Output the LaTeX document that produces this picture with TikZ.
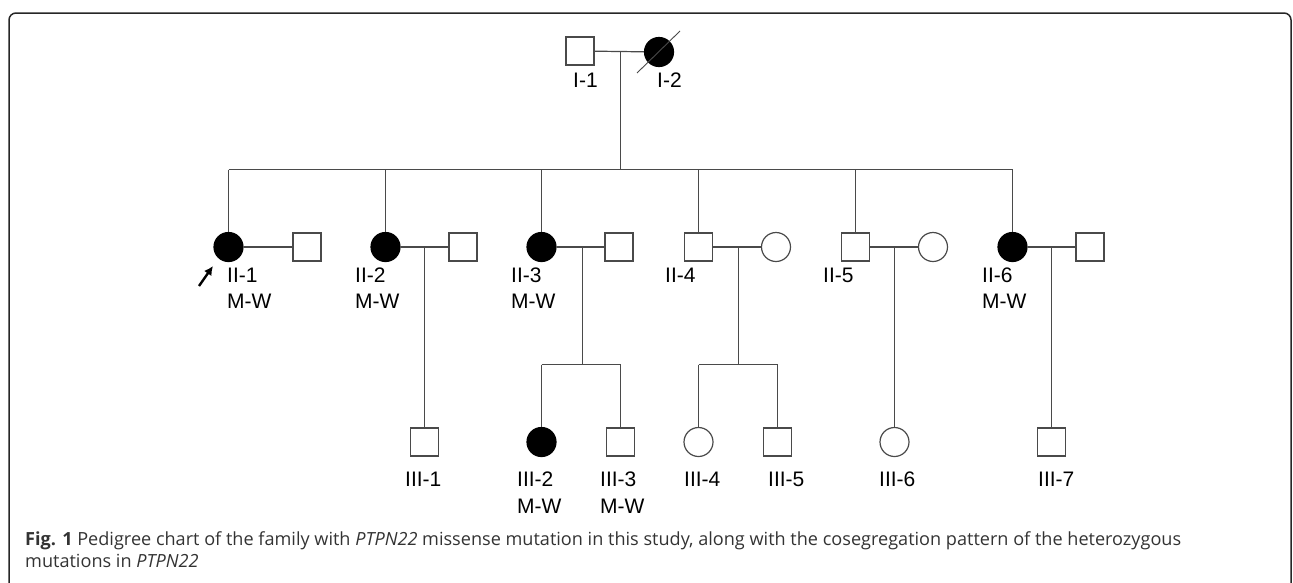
\documentclass[tikz,border=0pt]{standalone}
\usepackage{fontspec}
\setmainfont{Liberation Sans}
\newfontfamily\capfont{Open Sans}
\usetikzlibrary{arrows.meta}
\definecolor{lc}{HTML}{4A4A4A}
\definecolor{capc}{HTML}{333333}
\begin{document}
\begin{tikzpicture}[x=1pt,y=-1pt,
  conn/.style={draw=lc, line width=1.2pt},
  male/.style={draw=lc, line width=1.2pt, rectangle, minimum size=28pt, inner sep=0pt},
  female/.style={draw=lc, line width=1.2pt, circle, minimum size=29pt, inner sep=0pt},
  aff/.style={fill=black, draw=black},
  lbl/.style={anchor=west, inner sep=0pt, font=\fontsize{21}{21}\selectfont},
  captxt/.style={anchor=base west, inner sep=0pt, text=capc, font=\capfont\fontsize{18.1}{18.1}\selectfont}]
\useasboundingbox (0,0) rectangle (1293,582);
% frame
\draw[line width=1.5pt, black!85, rounded corners=7pt] (9,620) -- (9,13) -- (1291,13) -- (1291,620);
% generation I
\node[male] (I1) at (580,51) {};
\node[female, aff] (I2) at (659,52) {};
\draw[lc, line width=0.9pt] (637,73) -- (680,31);
\node[lbl] (lI1) at (573,80) {I-1};
\node[lbl] (lI2) at (657,80) {I-2};
\coordinate (m0) at (620.5,51);
\draw[conn] (I1) -- (I2);
% generation II
\node[female, aff] (II1) at (228.5,247) {};
\node[male] (S1) at (307,247) {};
\node[female, aff] (II2) at (385.5,247) {};
\node[male] (S2) at (463,247) {};
\node[female, aff] (II3) at (541.5,247) {};
\node[male] (S3) at (619,247) {};
\node[male] (II4) at (698.5,247) {};
\node[female] (S4) at (776,247) {};
\node[male] (II5) at (855.5,247) {};
\node[female] (S5) at (933,247) {};
\node[female, aff] (II6) at (1012.5,247) {};
\node[male] (S6) at (1090,247) {};
% sibship II
\coordinate (s0) at (620.5,169.5);
\coordinate (sa) at (228.5,169.5);
\coordinate (sf) at (1012.5,169.5);
\draw[conn] (m0) -- (s0);
\draw[conn] (sa) -- (sf);
\foreach \c/\x in {II1/228.5,II2/385.5,II3/541.5,II4/698.5,II5/855.5,II6/1012.5}{
  \draw[conn] (\x,169.5) -- (\c.north);
}
% couples
\draw[conn] (II1) -- (S1);
\draw[conn] (II2) -- (S2);
\draw[conn] (II3) -- (S3);
\draw[conn] (II4) -- (S4);
\draw[conn] (II5) -- (S5);
\draw[conn] (II6) -- (S6);
% labels II
\node[lbl] (lII1) at (227,275) {II-1};
\node[lbl] (gII1) at (227,301) {M-W};
\node[lbl] (lII2) at (355,275) {II-2};
\node[lbl] (gII2) at (355,301) {M-W};
\node[lbl] (lII3) at (511,275) {II-3};
\node[lbl] (gII3) at (511,301) {M-W};
\node[lbl] (lII4) at (665,275) {II-4};
\node[lbl] (lII5) at (823,275) {II-5};
\node[lbl] (lII6) at (982,275) {II-6};
\node[lbl] (gII6) at (982,301) {M-W};
% proband arrow
\coordinate (pa) at (199,286);
\coordinate (pb) at (213,266);
\draw[line width=2.4pt, black, -{Latex[length=9pt,width=9pt]}] (pa) -- (pb);
% generation III
\node[male] (III1) at (424.5,442) {};
\node[female, aff] (III2) at (541.5,442) {};
\node[male] (III3) at (620.5,442) {};
\node[female] (III4) at (698.5,442) {};
\node[male] (III5) at (777.5,442) {};
\node[female] (III6) at (894.5,442) {};
\node[male] (III7) at (1051.5,442) {};
% descents
\coordinate (d2) at (424.5,247);
\coordinate (d3) at (582.5,247);
\coordinate (d4) at (738.5,247);
\coordinate (d5) at (894.5,247);
\coordinate (d6) at (1051.5,247);
\coordinate (t3) at (582.5,364.5);
\coordinate (t4) at (738.5,364.5);
\coordinate (t3a) at (541.5,364.5);
\coordinate (t3b) at (620.5,364.5);
\coordinate (t4a) at (698.5,364.5);
\coordinate (t4b) at (777.5,364.5);
\draw[conn] (d2) -- (III1.north);
\draw[conn] (d3) -- (t3);
\draw[conn] (d4) -- (t4);
\draw[conn] (d5) -- (III6.north);
\draw[conn] (d6) -- (III7.north);
\draw[conn] (t3a) -- (t3b);
\draw[conn] (t4a) -- (t4b);
\draw[conn] (t3a) -- (III2.north);
\draw[conn] (t3b) -- (III3.north);
\draw[conn] (t4a) -- (III4.north);
\draw[conn] (t4b) -- (III5.north);
% labels III
\node[lbl] (lIII1) at (405,479) {III-1};
\node[lbl] (lIII2) at (517,479) {III-2};
\node[lbl] (gIII2) at (517,506) {M-W};
\node[lbl] (lIII3) at (600,479) {III-3};
\node[lbl] (gIII3) at (600,506) {M-W};
\node[lbl] (lIII4) at (684,479) {III-4};
\node[lbl] (lIII5) at (768,479) {III-5};
\node[lbl] (lIII6) at (879,479) {III-6};
\node[lbl] (lIII7) at (1038,479) {III-7};
% caption
\node[captxt] (c1) at (25,545) {\textbf{Fig. 1} Pedigree chart of the family with \textit{PTPN22} missense mutation in this study, along with the cosegregation pattern of the heterozygous};
\node[captxt] (c2) at (25,567) {mutations in \textit{PTPN22}};
\end{tikzpicture}
\end{document}
